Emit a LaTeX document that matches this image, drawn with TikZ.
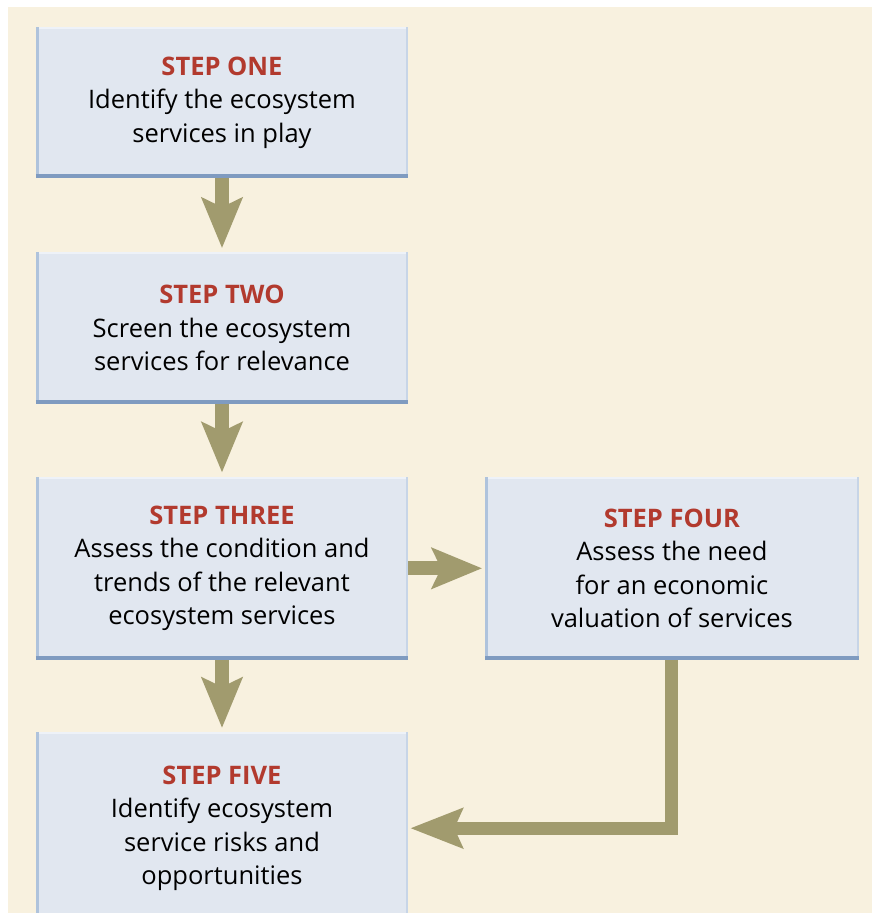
\documentclass[tikz,border=0pt]{standalone}
\usepackage{fontspec}
\setmainfont{Open Sans}
\usetikzlibrary{positioning,arrows.meta}
\definecolor{cream}{HTML}{F8F1DF}
\definecolor{boxfill}{HTML}{E1E7F0}
\definecolor{edgelight}{HTML}{AFC3DC}
\definecolor{edgedark}{HTML}{7F9BC0}
\definecolor{edgetop}{HTML}{EEF2F8}
\definecolor{stepred}{HTML}{B23A2E}
\definecolor{flowcol}{HTML}{A19B6E}
\newcommand{\steptitle}[1]{\textcolor{stepred}{\textbf{#1}}}
\tikzset{
	stepbox/.style={fill=boxfill, minimum width=372pt, minimum height=151pt,
		align=center, inner sep=0pt, font=\fontsize{25.5}{33.5}\selectfont},
	flow/.style={draw=flowcol, line width=14pt,
		-{Stealth[length=50pt,width=40pt,inset=9pt]}}
}
\begin{document}
\begin{tikzpicture}
	[x=1pt, y=-1pt]
	\useasboundingbox (0,0) rectangle (872,913);
	\fill[cream] (8,7) rectangle (872,913);
	% left column
	\node[stepbox] (one) at (222,102.5)
		{\steptitle{STEP ONE}\\Identify the ecosystem\\services in play};
	\node[stepbox, below=74pt of one] (two)
		{\steptitle{STEP TWO}\\Screen the ecosystem\\services for relevance};
	\node[stepbox, below=73pt of two, minimum height=183pt] (three)
		{\steptitle{STEP THREE}\\Assess the condition and\\trends of the relevant\\ecosystem services};
	\node[stepbox, below=72pt of three, minimum height=192pt] (five)
		{\steptitle{STEP FIVE}\\Identify ecosystem\\service risks and\\opportunities};
	% right column
	\node[stepbox, right=77pt of three, minimum width=373pt, minimum height=183pt] (four)
		{\steptitle{STEP FOUR}\\Assess the need\\for an economic\\valuation of services};
	% box edges
	\foreach \b in {one,two,three,four,five}{
		\draw[edgetop, line width=2pt] ([yshift=-1pt]\b.north west) -- ([yshift=-1pt]\b.north east);
		\draw[edgelight, line width=3pt] ([xshift=1.5pt]\b.south west) -- ([xshift=1.5pt]\b.north west);
		\draw[edgelight!70, line width=2pt] ([xshift=-1pt]\b.south east) -- ([xshift=-1pt]\b.north east);
		\draw[edgedark, line width=4pt] ([yshift=2pt]\b.south west) -- ([yshift=2pt]\b.south east);
	}
	% arrows
	\draw[flow, shorten >=4pt] (one) -- (two);
	\draw[flow, shorten >=4pt] (two) -- (three);
	\draw[flow, shorten >=4pt] (three) -- (five);
	\draw[flow, shorten >=3pt] (three) -- (four);
	\draw[flow, line width=13pt, -{Stealth[length=52pt,width=39pt,inset=8pt]}, shorten >=2pt]
		(four.south) |- (five.east);
\end{tikzpicture}
\end{document}
